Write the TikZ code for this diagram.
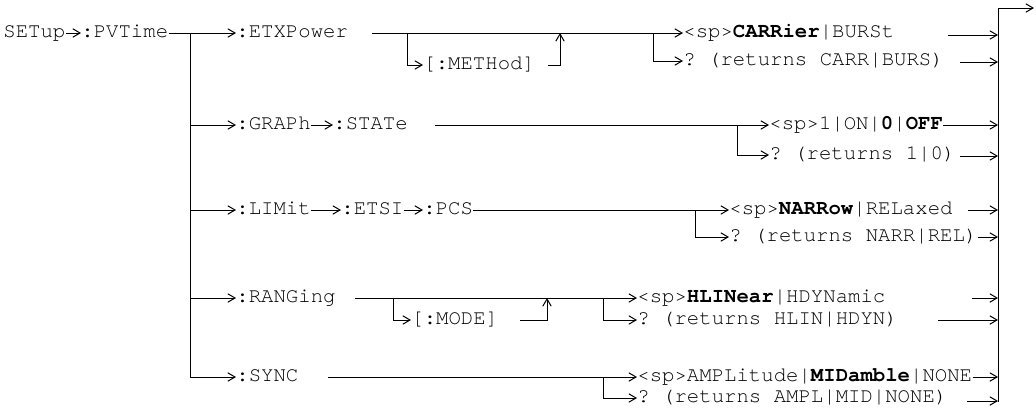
\documentclass[tikz,border=0pt]{standalone}
\usepackage{fontspec}
\setmonofont{TeX Gyre Cursor}
\usetikzlibrary{arrows.meta}
\begin{document}
\begin{tikzpicture}[x=0.5pt,y=-0.5pt,
  txt/.style={inner sep=0pt, anchor=mid west, font=\ttfamily\fontsize{10.33}{12}\selectfont},
  ln/.style={line width=0.5pt},
  arr/.style={ln,-{Straight Barb[length=3.6pt,width=4.2pt]}},
]
\useasboundingbox (0,0) rectangle (1036,418);

% output bus
\coordinate (bustop) at (998,8);
\coordinate (busbot) at (998,402);
\coordinate (out) at (1034,8);
\draw[ln] (busbot) -- (bustop);
\draw[arr] (bustop) -- (out);

% left part
\node[txt] (setup) at (3,33) {SETup};
\node[txt] (pvtime) at (81,33) {:PVTime};
\draw[arr] (setup.mid east) -- (pvtime.mid west);
\coordinate (trunk) at (190,33);
\coordinate (trunkend) at (190,377);
\draw[ln] (trunk) -- (trunkend);

% row 1
\node[txt] (etx) at (236,33) {:ETXPower};
\draw[arr] (pvtime.mid east) -- (etx.mid west);
\coordinate (r1s) at (372,33);
\node[txt] (carr) at (683,33) {<sp>\textbf{CARRier}|BURSt};
\draw[arr] (r1s) -- (carr.mid west);
\node[txt] (meth) at (423,65) {[:METHod]};
\coordinate (m1) at (407,33);
\draw[arr] (m1) |- (meth.mid west);
\coordinate (m2) at (548,65);
\coordinate (m3) at (560,33);
\draw[arr] (m2) -| (m3);
\node[txt] (carrq) at (683,61) {? (returns CARR|BURS)};
\coordinate (q1) at (653,33);
\draw[arr] (q1) |- (carrq.mid west);
\coordinate (o1a) at (948,35);
\coordinate (o1b) at (960,62);
\draw[arr] (o1a) -- (o1a -| busbot);
\draw[arr] (o1b) -- (o1b -| busbot);

% row 2
\node[txt] (graph) at (236,125) {:GRAPh};
\draw[arr] (trunk |- graph.mid west) -- (graph.mid west);
\node[txt] (state) at (333,125) {:STATe};
\draw[arr] (graph.mid east) -- (state.mid west);
\coordinate (r2s) at (435,125);
\node[txt] (onoff) at (769,125) {<sp>1|ON|\textbf{0}|\textbf{OFF}};
\draw[arr] (r2s) -- (onoff.mid west);
\draw[arr] (onoff.mid east) -- (onoff.mid east -| busbot);
\node[txt] (onoffq) at (769,155) {? (returns 1|0)};
\coordinate (q2) at (737,125);
\draw[arr] (q2) |- (onoffq.mid west);
\coordinate (o2b) at (960,156);
\draw[arr] (o2b) -- (o2b -| busbot);

% row 3
\node[txt] (limit) at (236,210) {:LIMit};
\draw[arr] (trunk |- limit.mid west) -- (limit.mid west);
\node[txt] (etsi) at (341,210) {:ETSI};
\draw[arr] (limit.mid east) -- (etsi.mid west);
\node[txt] (pcs) at (423,210) {:PCS};
\draw[arr] (etsi.mid east) -- (pcs.mid west);
\node[txt] (narr) at (729,210) {<sp>\textbf{NARRow}|RELaxed};
\draw[arr] (pcs.mid east) -- (narr.mid west);
\node[txt] (narrq) at (729,237) {? (returns NARR|REL)};
\coordinate (q3) at (695,210);
\draw[arr] (q3) |- (narrq.mid west);
\coordinate (o3a) at (968,210);
\draw[arr] (o3a) -- (o3a -| busbot);
\draw[arr] (narrq.mid east) -- (narrq.mid east -| busbot);

% row 4
\node[txt] (rang) at (236,298) {:RANGing};
\draw[arr] (trunk |- rang.mid west) -- (rang.mid west);
\coordinate (r4s) at (355,298);
\node[txt] (hlin) at (637,298) {<sp>\textbf{HLINear}|HDYNamic};
\draw[arr] (r4s) -- (hlin.mid west);
\node[txt] (mode) at (411,320) {[:MODE]};
\coordinate (d1) at (393,298);
\draw[arr] (d1) |- (mode.mid west);
\coordinate (d2) at (520,320);
\coordinate (d3) at (547,298);
\draw[arr] (d2) -| (d3);
\node[txt] (hlinq) at (637,320) {? (returns HLIN|HDYN)};
\coordinate (q4) at (603,298);
\draw[arr] (q4) |- (hlinq.mid west);
\coordinate (o4a) at (972,298);
\coordinate (o4b) at (938,320);
\draw[arr] (o4a) -- (o4a -| busbot);
\draw[arr] (o4b) -- (o4b -| busbot);

% row 5
\node[txt] (sync) at (236,377) {:SYNC};
\draw[arr] (trunkend) -- (sync.mid west);
\coordinate (r5s) at (328,377);
\node[txt] (ampl) at (637,377) {<sp>AMPLitude|\textbf{MIDamble}|NONE};
\draw[arr] (r5s) -- (ampl.mid west);
\draw[arr] (ampl.mid east) -- (ampl.mid east -| busbot);
\node[txt] (amplq) at (637,398) {? (returns AMPL|MID|NONE)};
\coordinate (q5) at (603,377);
\draw[arr] (q5) |- (amplq.mid west);
\coordinate (o5b) at (967,401);
\draw[arr] (o5b) -- (o5b -| busbot);
\end{tikzpicture}
\end{document}
